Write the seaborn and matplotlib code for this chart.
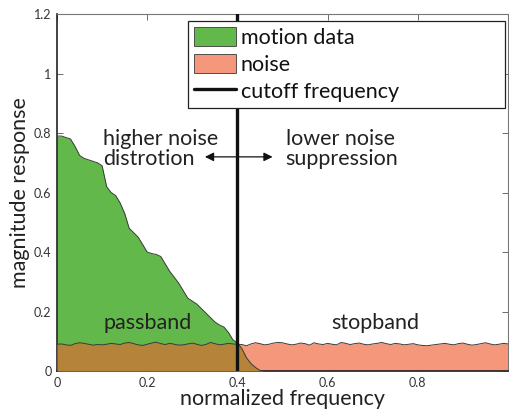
import numpy as np
import matplotlib
matplotlib.use("Agg")
import matplotlib.pyplot as plt
from matplotlib.patches import Patch
from matplotlib.lines import Line2D
import seaborn as sns

# normalized frequency grid (0 .. 1 in steps of 0.01)
freq = np.round(np.arange(0, 101) * 0.01, 2)

# magnitude of the motion data spectrum
motion = [
    0.790, 0.790, 0.785, 0.780, 0.755, 0.725, 0.715, 0.710, 0.705, 0.700,
    0.690, 0.620, 0.600, 0.590, 0.565, 0.530, 0.480, 0.465, 0.450, 0.425,
    0.400, 0.395, 0.392, 0.385, 0.360, 0.335, 0.315, 0.295, 0.270, 0.245,
    0.235, 0.225, 0.210, 0.195, 0.180, 0.165, 0.155, 0.148, 0.130, 0.105,
    0.094, 0.075, 0.045, 0.025, 0.012, 0.002, 0.0, 0.0, 0.0, 0.0,
] + [0.0] * 51

# magnitude of the noise spectrum
noise = [
    0.090, 0.091, 0.088, 0.086, 0.092, 0.095, 0.093, 0.090, 0.087, 0.089,
    0.088, 0.090, 0.093, 0.091, 0.089, 0.094, 0.096, 0.092, 0.088, 0.086,
    0.090, 0.094, 0.097, 0.092, 0.089, 0.093, 0.090, 0.087, 0.088, 0.091,
    0.094, 0.090, 0.086, 0.089, 0.096, 0.092, 0.088, 0.090, 0.093, 0.091,
    0.090, 0.089, 0.085, 0.091, 0.095, 0.092, 0.088, 0.090, 0.094, 0.096,
    0.095, 0.091, 0.088, 0.090, 0.094, 0.092, 0.087, 0.095, 0.091, 0.089,
    0.093, 0.090, 0.088, 0.096, 0.093, 0.089, 0.092, 0.094, 0.090, 0.088,
    0.091, 0.093, 0.096, 0.092, 0.089, 0.093, 0.091, 0.088, 0.090, 0.092,
    0.088, 0.086, 0.085, 0.087, 0.089, 0.091, 0.093, 0.090, 0.088, 0.092,
    0.094, 0.090, 0.087, 0.089, 0.092, 0.095, 0.091, 0.088, 0.090, 0.093,
    0.091,
]

cutoff = 0.4
xticks = [0, 0.2, 0.4, 0.6, 0.8]
xtick_labels = ["0", "0.2", "0.4", "0.6", "0.8"]
yticks = [0, 0.2, 0.4, 0.6, 0.8, 1.0, 1.2]
ytick_labels = ["0", "0.2", "0.4", "0.6", "0.8", "1", "1.2"]

GREEN = "#62b84a"
SALMON = "#f5977b"
BROWN = "#b5843a"
EDGE = "#3a3a3a"
FS = 15.5

sns.set_theme(style="white")
plt.rcParams["font.family"] = ["Lato", "DejaVu Sans"]

fig = plt.figure(figsize=(5.09, 4.15), dpi=100)
ax = fig.add_axes([0.112, 0.106, 0.886, 0.860])

motion_arr = np.array(motion)
noise_arr = np.array(noise)
overlap = np.minimum(motion_arr, noise_arr)

ax.fill_between(freq, 0, noise_arr, color=SALMON, linewidth=0, zorder=1)
ax.fill_between(freq, 0, motion_arr, color=GREEN, linewidth=0, zorder=2)
ax.fill_between(freq, 0, overlap, color=BROWN, linewidth=0, zorder=3)

n_pos = int((motion_arr > 0).sum()) + 1
sns.lineplot(x=freq[:n_pos], y=motion_arr[:n_pos],
             color=EDGE, linewidth=0.7, ax=ax, zorder=4)
sns.lineplot(x=freq, y=noise_arr, color=EDGE, linewidth=0.7, ax=ax, zorder=4)

ax.axvline(cutoff, color="#111111", linewidth=2.4, zorder=5)

# double-headed arrow across the cutoff
ax.annotate("", xy=(0.328, 0.72), xytext=(0.478, 0.72),
            arrowprops=dict(arrowstyle="<|-|>", color="#111111", lw=0.9,
                            mutation_scale=13, shrinkA=0, shrinkB=0),
            zorder=6)

txt_kw = dict(fontsize=FS, color="#222222", va="center", zorder=6)
ax.text(0.102, 0.745, "higher noise\ndistrotion", ha="left",
        linespacing=1.0, **txt_kw)
ax.text(0.507, 0.745, "lower noise\nsuppression", ha="left",
        linespacing=1.0, **txt_kw)
ax.text(0.2, 0.16, "passband", ha="center", **txt_kw)
ax.text(0.705, 0.16, "stopband", ha="center", **txt_kw)

ax.set_xlim(0, 1)
ax.set_ylim(0, 1.2)
ax.set_xticks(xticks)
ax.set_xticklabels(xtick_labels)
ax.set_yticks(yticks)
ax.set_yticklabels(ytick_labels)
ax.tick_params(direction="in", length=4, width=0.6, color="#555555",
               labelsize=9, labelcolor="#333333", top=True, right=True,
               bottom=True, left=True, pad=4)
ax.set_xlabel("normalized frequency", fontsize=FS, color="#222222", labelpad=0)
ax.set_ylabel("magnitude response", fontsize=FS, color="#222222", labelpad=3)

for side in ["left", "bottom"]:
    ax.spines[side].set_color("#222222")
    ax.spines[side].set_linewidth(1.2)
for side in ["top", "right"]:
    ax.spines[side].set_color("#777777")
    ax.spines[side].set_linewidth(0.8)

handles = [
    Patch(facecolor=GREEN, edgecolor=EDGE, linewidth=0.6, label="motion data"),
    Patch(facecolor=SALMON, edgecolor=EDGE, linewidth=0.6, label="noise"),
    Line2D([0], [0], color="#111111", linewidth=2.4, label="cutoff frequency"),
]
# wide legend box spanning most of the upper right area
leg = fig.legend(handles=handles, loc="upper left",
                 bbox_to_anchor=(188 / 509, 1 - 21 / 415, 317 / 509, 0.0),
                 mode="expand", fontsize=FS,
                 frameon=True, fancybox=False, framealpha=1,
                 edgecolor="#222222", borderpad=0.3, labelspacing=0.28,
                 handlelength=1.95, handleheight=0.95, handletextpad=0.2,
                 borderaxespad=0)
leg.get_frame().set_linewidth(0.9)
for t in leg.get_texts():
    t.set_color("#111111")

fig.savefig("out.png", dpi=100)
